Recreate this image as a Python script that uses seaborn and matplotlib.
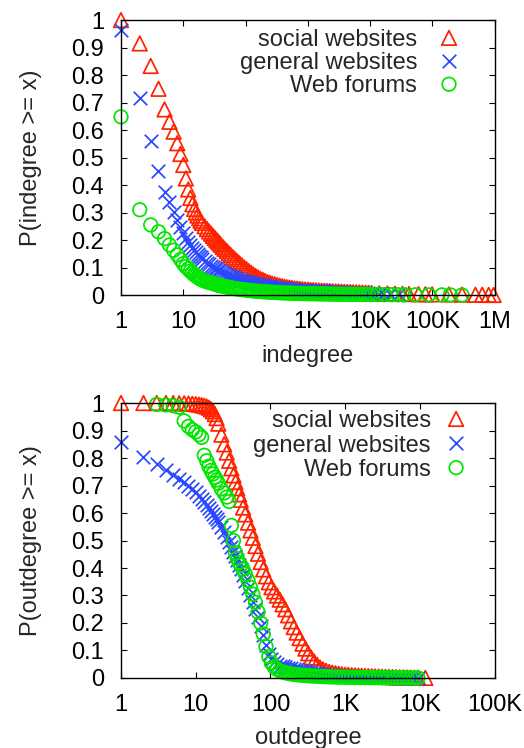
import matplotlib
matplotlib.use("Agg")
import matplotlib.pyplot as plt
import seaborn as sns
from matplotlib.ticker import NullLocator

degrees = [1, 2, 3, 4, 5, 6, 7, 8, 9, 10,
           11, 12, 13, 14, 15, 16, 17, 18, 19, 20,
           22, 24, 26, 28, 30, 32, 34, 36, 38, 40,
           43, 46, 50, 54, 58, 63, 68, 74, 80, 87,
           95, 103, 112, 122, 133, 145, 158, 172, 188, 205,
           224, 245, 268, 293, 320, 350, 383, 420, 460, 505,
           555, 610, 670, 740, 815, 900, 1000, 1100, 1220, 1350,
           1500, 1660, 1840, 2040, 2260, 2500, 2800, 3100, 3450, 3850,
           4300, 4800, 5350, 6000, 6700, 7500, 8400, 9400, 10500]

# --- indegree P(indegree >= x) ---
in_social = [1.0, 0.915, 0.833, 0.75, 0.675, 0.63, 0.594, 0.552, 0.513, 0.473,
             0.424, 0.384, 0.353, 0.33, 0.313, 0.3, 0.289, 0.279, 0.27, 0.262,
             0.25, 0.24, 0.231, 0.223, 0.215, 0.208, 0.201, 0.195, 0.189, 0.183,
             0.175, 0.168, 0.16, 0.152, 0.145, 0.137, 0.13, 0.122, 0.115, 0.108,
             0.1, 0.094, 0.087, 0.081, 0.075, 0.069, 0.064, 0.059, 0.055, 0.051,
             0.047, 0.044, 0.041, 0.039, 0.036, 0.034, 0.032, 0.03, 0.028, 0.027,
             0.025, 0.024, 0.023, 0.022, 0.021, 0.02, 0.019, 0.018, 0.0175, 0.017,
             0.016, 0.0155, 0.015, 0.0145, 0.014, 0.0135, 0.013, 0.0125, 0.012, 0.0115,
             0.011, 0.0105, 0.01, 0.0095, 0.009, 0.0085, 0.008, 0.0075, 0.007]
in_general = [0.964, 0.715, 0.561, 0.452, 0.376, 0.337, 0.302, 0.272, 0.246, 0.224,
              0.207, 0.193, 0.181, 0.171, 0.162, 0.155, 0.148, 0.142, 0.137, 0.132,
              0.124, 0.117, 0.111, 0.106, 0.101, 0.097, 0.093, 0.09, 0.087, 0.084,
              0.08, 0.077, 0.073, 0.07, 0.067, 0.064, 0.061, 0.058, 0.056, 0.053,
              0.051, 0.049, 0.047, 0.045, 0.043, 0.041, 0.039, 0.037, 0.035, 0.034,
              0.032, 0.031, 0.03, 0.028, 0.027, 0.026, 0.025, 0.024, 0.023, 0.022,
              0.021, 0.02, 0.019, 0.018, 0.0175, 0.017, 0.016, 0.0155, 0.015, 0.0145,
              0.014, 0.0135, 0.013, 0.0125, 0.012, 0.0115, 0.011, 0.0105, 0.01, 0.0095,
              0.009, 0.0085, 0.008, 0.0075, 0.007, 0.0065, 0.006, 0.0056, 0.0052]
in_forums = [0.648, 0.31, 0.255, 0.23, 0.205, 0.182, 0.163, 0.146, 0.129, 0.114,
             0.103, 0.095, 0.087, 0.08, 0.074, 0.069, 0.065, 0.061, 0.058, 0.055,
             0.051, 0.048, 0.046, 0.044, 0.042, 0.04, 0.038, 0.036, 0.035, 0.034,
             0.032, 0.031, 0.029, 0.028, 0.026, 0.025, 0.023, 0.022, 0.021, 0.02,
             0.019, 0.018, 0.017, 0.016, 0.015, 0.014, 0.0135, 0.013, 0.012, 0.0115,
             0.011, 0.0105, 0.01, 0.0095, 0.009, 0.0085, 0.008, 0.0077, 0.0074, 0.007,
             0.0067, 0.0064, 0.0061, 0.0058, 0.0055, 0.0052, 0.005, 0.0048, 0.0046, 0.0044,
             0.0042, 0.004, 0.0038, 0.0036, 0.0034, 0.0032, 0.003, 0.0029, 0.0028, 0.0027,
             0.0026, 0.0025, 0.0024, 0.0023, 0.0022, 0.0021, 0.002, 0.0019, 0.0018]
# sparse tails (largest degrees)
in_social_tail_x = [14000, 19000, 25000, 33000, 42000, 60000, 77000, 99000,
                    183000, 300000, 490000, 630000, 800000, 960000]
in_social_tail_y = [0.0058, 0.0052, 0.0046, 0.004, 0.0035, 0.003, 0.0027, 0.0024,
                    0.002, 0.0015, 0.001, 0.0008, 0.0005, 0.0002]
in_general_tail_x = [12000, 13800, 16000, 21000, 29000]
in_general_tail_y = [0.0048, 0.0044, 0.004, 0.003, 0.002]
in_forums_tail_x = [13000, 17000, 22000, 28000, 35000, 53000, 87000, 142000, 194000, 299000]
in_forums_tail_y = [0.0016, 0.0014, 0.0012, 0.001, 0.0009, 0.0007, 0.0005, 0.0003, 0.0002, 0.0001]

# --- outdegree P(outdegree >= x) ---
out_social = [1.0, 1.0, 1.0, 1.0, 1.0, 0.999, 0.999, 0.998, 0.997, 0.996,
              0.994, 0.992, 0.99, 0.987, 0.983, 0.977, 0.97, 0.96, 0.945, 0.925,
              0.885, 0.85, 0.82, 0.79, 0.763, 0.737, 0.713, 0.69, 0.668, 0.648,
              0.62, 0.595, 0.565, 0.537, 0.51, 0.48, 0.452, 0.422, 0.395, 0.37,
              0.348, 0.33, 0.315, 0.3, 0.285, 0.268, 0.25, 0.228, 0.206, 0.185,
              0.165, 0.145, 0.125, 0.107, 0.09, 0.074, 0.06, 0.048, 0.038, 0.031,
              0.026, 0.022, 0.019, 0.017, 0.015, 0.0135, 0.012, 0.011, 0.01, 0.0092,
              0.0085, 0.0078, 0.0072, 0.0066, 0.006, 0.0055, 0.005, 0.0045, 0.004, 0.0036,
              0.0032, 0.0028, 0.0024, 0.002, 0.0017, 0.0014, 0.0011, 0.0008]
out_general = [0.857, 0.803, 0.777, 0.755, 0.738, 0.724, 0.711, 0.699, 0.687, 0.675,
               0.663, 0.652, 0.641, 0.63, 0.619, 0.608, 0.597, 0.587, 0.577, 0.567,
               0.548, 0.53, 0.512, 0.494, 0.477, 0.46, 0.444, 0.428, 0.412, 0.397,
               0.375, 0.354, 0.328, 0.302, 0.278, 0.25, 0.222, 0.19, 0.158, 0.12,
               0.088, 0.07, 0.058, 0.05, 0.045, 0.042, 0.039, 0.037, 0.035, 0.033,
               0.031, 0.029, 0.027, 0.025, 0.023, 0.021, 0.019, 0.017, 0.015, 0.013,
               0.012, 0.011, 0.01, 0.009, 0.008, 0.007, 0.006, 0.0055, 0.005, 0.0047,
               0.0044, 0.0041, 0.0038, 0.0035, 0.0032, 0.003, 0.0027, 0.0025, 0.0023, 0.002,
               0.0018, 0.0016, 0.0014, 0.0012, 0.001, 0.0008, 0.0006, 0.0004]
out_forums = [0.995, 0.993, 0.99, 0.985, 0.935, 0.915, 0.903, 0.895,
              0.885, 0.875, 0.81, 0.79, 0.77, 0.755, 0.742, 0.73, 0.72, 0.708,
              0.688, 0.673, 0.658, 0.642, 0.555, 0.5, 0.455, 0.435, 0.42, 0.41,
              0.395, 0.378, 0.355, 0.33, 0.305, 0.275, 0.24, 0.2, 0.16, 0.115,
              0.078, 0.055, 0.04, 0.032, 0.026, 0.022, 0.019, 0.017, 0.015, 0.013,
              0.012, 0.011, 0.01, 0.009, 0.0083, 0.0076, 0.007, 0.0064, 0.0058, 0.0053,
              0.0048, 0.0044, 0.004, 0.0036, 0.0033, 0.003, 0.0027, 0.0025, 0.0023, 0.0021,
              0.0019, 0.0017, 0.0016, 0.0015, 0.0014, 0.0013, 0.0012, 0.0011, 0.001, 0.0009,
              0.0008, 0.0007, 0.0006, 0.0005, 0.0004, 0.0003, 0.0002, 0.0001]
out_social_tail_x = [11800]
out_social_tail_y = [0.0003]

labels = ["social websites", "general websites", "Web forums"]
in_ticks = [1, 10, 100, 1000, 10000, 100000, 1000000]
in_tick_labels = ["1", "10", "100", "1K", "10K", "100K", "1M"]
out_ticks = [1, 10, 100, 1000, 10000, 100000]
out_tick_labels = ["1", "10", "100", "1K", "10K", "100K"]
y_ticks = [0, 0.1, 0.2, 0.3, 0.4, 0.5, 0.6, 0.7, 0.8, 0.9, 1]
y_tick_labels = ["0", "0.1", "0.2", "0.3", "0.4", "0.5", "0.6", "0.7", "0.8", "0.9", "1"]

RED = "#ff2200"
BLUE = "#2848ff"
GREEN = "#00e600"

sns.set_style("ticks")
plt.rcParams["font.family"] = ["Liberation Sans", "DejaVu Sans"]
plt.rcParams["font.size"] = 17


def draw_panel(ax, social, general, forums, xticks, xticklabels, xmax,
               xlabel, ylabel, anchor, textpad, spacing):
    sns.scatterplot(x=social[0], y=social[1], ax=ax, marker="^", s=110,
                    color=RED, facecolor="none", edgecolor=RED, linewidth=1.25,
                    clip_on=False, label=labels[0])
    sns.scatterplot(x=general[0], y=general[1], ax=ax, marker="x", s=95,
                    color=BLUE, linewidth=1.25, clip_on=False, label=labels[1])
    sns.scatterplot(x=forums[0], y=forums[1], ax=ax, marker="o", s=95,
                    color=GREEN, facecolor="none", edgecolor=GREEN, linewidth=1.25,
                    clip_on=False, label=labels[2])
    ax.set_xscale("log")
    ax.set_xlim(1, xmax)
    ax.set_ylim(0, 1)
    ax.set_xticks(xticks, xticklabels)
    ax.set_yticks(y_ticks, y_tick_labels)
    ax.xaxis.set_minor_locator(NullLocator())
    ax.tick_params(axis="both", direction="in", length=4.5, width=0.8,
                   top=True, right=True, colors="black")
    ax.tick_params(axis="x", pad=11.5)
    ax.tick_params(axis="y", pad=12)
    for sp in ax.spines.values():
        sp.set_linewidth(1.0)
        sp.set_color("black")
    ax.set_xlabel(xlabel)
    ax.set_ylabel(ylabel)
    ax.xaxis.set_label_coords(0.5, -0.18)
    ax.yaxis.set_label_coords(-0.211, 0.5)
    leg = ax.legend(loc="upper right", bbox_to_anchor=anchor, markerfirst=False,
                    frameon=False, borderpad=0, borderaxespad=0,
                    handlelength=1.75, handletextpad=textpad,
                    labelspacing=spacing, scatteryoffsets=[0.5])
    leg._legend_handle_box.get_children()[0].align = "right"


fig = plt.figure(figsize=(5.24, 7.48), dpi=100)
ax_in = fig.add_axes([0.2309, 0.6056, 0.7132, 0.3676])
ax_out = fig.add_axes([0.2309, 0.0936, 0.7132, 0.3676])

draw_panel(ax_in,
           (degrees + in_social_tail_x, in_social + in_social_tail_y),
           (degrees + in_general_tail_x, in_general + in_general_tail_y),
           (degrees + in_forums_tail_x, in_forums + in_forums_tail_y),
           in_ticks, in_tick_labels, 1000000, "indegree", "P(indegree >= x)",
           (0.933, 0.967), 0.48, 0.05)
draw_panel(ax_out,
           (degrees[:88] + out_social_tail_x, out_social + out_social_tail_y),
           (degrees[:88], out_general),
           (degrees[2:88], out_forums),
           out_ticks, out_tick_labels, 100000, "outdegree", "P(outdegree >= x)",
           (0.952, 0.974), 0.19, 0.1)

fig.savefig("out.png", dpi=100)
